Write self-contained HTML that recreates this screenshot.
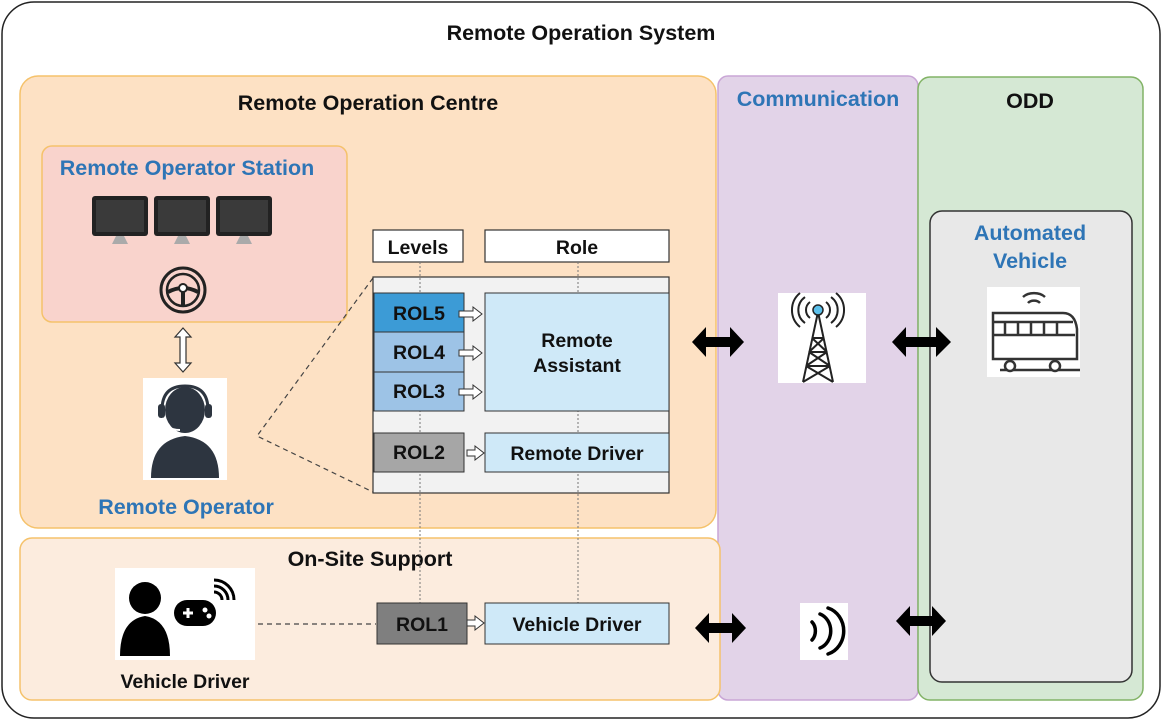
<!DOCTYPE html>
<html><head><meta charset="utf-8"><style>
html,body{margin:0;padding:0;background:#fff}
svg{display:block}
text{font-family:"Liberation Sans",Arial,sans-serif;font-weight:bold}
</style></head><body>
<svg width="1163" height="721" viewBox="0 0 1163 721" xmlns="http://www.w3.org/2000/svg">
<rect x="2" y="2" width="1158" height="716" rx="32" fill="#fff" stroke="#222" stroke-width="1.5"/>
<text x="581" y="40" font-size="21.5" text-anchor="middle" fill="#111">Remote Operation System</text>

<rect x="718" y="76" width="200" height="624" rx="10" fill="#e2d3e8" stroke="#c9a6d6" stroke-width="1.5"/>
<text x="818" y="106" font-size="21.5" text-anchor="middle" fill="#2e75b6">Communication</text>
<rect x="918" y="77" width="225" height="623" rx="12" fill="#d5e8d4" stroke="#82b366" stroke-width="1.5"/>
<text x="1030" y="108" font-size="21.5" text-anchor="middle" fill="#111">ODD</text>
<rect x="930" y="211" width="202" height="471" rx="12" fill="#e8e8e8" stroke="#333" stroke-width="1.5"/>
<text x="1030" y="240" font-size="21.5" text-anchor="middle" fill="#2e75b6">Automated</text>
<text x="1030" y="268" font-size="21.5" text-anchor="middle" fill="#2e75b6">Vehicle</text>

<rect x="20" y="76" width="696" height="452" rx="18" fill="#fde1c4" stroke="#f5c26b" stroke-width="1.5"/>
<text x="368" y="110" font-size="21.5" text-anchor="middle" fill="#111">Remote Operation Centre</text>
<rect x="20" y="538" width="700" height="162" rx="12" fill="#fcecde" stroke="#f5c26b" stroke-width="1.5"/>
<text x="370" y="566" font-size="21.5" text-anchor="middle" fill="#111">On-Site Support</text>

<rect x="42" y="146" width="305" height="176" rx="10" fill="#f9d3cc" stroke="#f5c26b" stroke-width="1.5"/>
<text x="187" y="175" font-size="21.5" text-anchor="middle" fill="#2e75b6">Remote Operator Station</text>
<g>
<rect x="92" y="196" width="56" height="40" rx="3" fill="#222"/><rect x="96" y="200" width="48" height="32" fill="#3a3a3a"/><path d="M116 236h8l4 8h-16z" fill="#aaa"/>
<rect x="154" y="196" width="56" height="40" rx="3" fill="#222"/><rect x="158" y="200" width="48" height="32" fill="#3a3a3a"/><path d="M178 236h8l4 8h-16z" fill="#aaa"/>
<rect x="216" y="196" width="56" height="40" rx="3" fill="#222"/><rect x="220" y="200" width="48" height="32" fill="#3a3a3a"/><path d="M240 236h8l4 8h-16z" fill="#aaa"/>
</g>
<circle cx="183" cy="290" r="22" fill="none" stroke="#222" stroke-width="3"/>
<circle cx="183" cy="290" r="16" fill="none" stroke="#222" stroke-width="2.5"/>
<path d="M168 292 Q183 284 198 292 M183 288 V306" stroke="#222" stroke-width="4" fill="none"/>
<circle cx="183" cy="288" r="4" fill="#fff" stroke="#222" stroke-width="2"/>
<path d="M183 328 l-8 9 h5 v26 h-5 l8 9 l8-9 h-5 v-26 h5z" fill="#fff" stroke="#333" stroke-width="1.2"/>
<rect x="143" y="378" width="84" height="102" fill="#fff"/>
<path d="M151 478 Q151 440 185 436 Q219 440 219 478z" fill="#2d3540"/>
<ellipse cx="185" cy="410" rx="20" ry="23" fill="#2d3540"/>
<path d="M162 410 Q162 386 185 386 Q208 386 208 410" fill="none" stroke="#2d3540" stroke-width="3"/>
<rect x="158" y="404" width="7" height="14" rx="3" fill="#2d3540"/><rect x="205" y="404" width="7" height="14" rx="3" fill="#2d3540"/>
<path d="M162 418 Q165 430 180 430" fill="none" stroke="#fff" stroke-width="2"/>
<text x="186" y="514" font-size="21.5" text-anchor="middle" fill="#2e75b6">Remote Operator</text>

<path d="M373 278 L257 436 L373 492" fill="none" stroke="#444" stroke-width="1.2" stroke-dasharray="5,4"/>

<rect x="373" y="230" width="90" height="32" fill="#fff" stroke="#333" stroke-width="1.2"/>
<text x="418" y="254" font-size="19.5" text-anchor="middle" fill="#111">Levels</text>
<rect x="485" y="230" width="184" height="32" fill="#fff" stroke="#333" stroke-width="1.2"/>
<text x="577" y="254" font-size="19.5" text-anchor="middle" fill="#111">Role</text>
<rect x="373" y="277" width="296" height="216" fill="#f2f2f2" stroke="#333" stroke-width="1.2"/>
<path d="M420 262 V603 M578 262 V603" stroke="#777" stroke-width="1" stroke-dasharray="2,2"/>
<rect x="374" y="293" width="90" height="39" fill="#3c9bd6" stroke="#333"/>
<rect x="374" y="332" width="90" height="40" fill="#9dc3e6" stroke="#333"/>
<rect x="374" y="372" width="90" height="39" fill="#9dc3e6" stroke="#333"/>
<rect x="374" y="433" width="90" height="39" fill="#a6a6a6" stroke="#333"/>
<text x="419" y="320" font-size="19.5" text-anchor="middle" fill="#111">ROL5</text>
<text x="419" y="359" font-size="19.5" text-anchor="middle" fill="#111">ROL4</text>
<text x="419" y="398" font-size="19.5" text-anchor="middle" fill="#111">ROL3</text>
<text x="419" y="459" font-size="19.5" text-anchor="middle" fill="#111">ROL2</text>
<rect x="485" y="293" width="184" height="118" fill="#cfe9f8" stroke="#333"/>
<text x="577" y="347" font-size="19.5" text-anchor="middle" fill="#111">Remote</text>
<text x="577" y="372" font-size="19.5" text-anchor="middle" fill="#111">Assistant</text>
<rect x="485" y="433" width="184" height="39" fill="#cfe9f8" stroke="#333"/>
<text x="577" y="460" font-size="19.5" text-anchor="middle" fill="#111">Remote Driver</text>
<g fill="#fff" stroke="#333" stroke-width="1">
<path d="M459 311 h14 v-4 l9 7 l-9 7 v-4 h-14z"/>
<path d="M459 350 h14 v-4 l9 7 l-9 7 v-4 h-14z"/>
<path d="M459 389 h14 v-4 l9 7 l-9 7 v-4 h-14z"/>
<path d="M467 450 h8 v-4 l9 7 l-9 7 v-4 h-8z"/>
<path d="M467 620 h8 v-4 l9 7 l-9 7 v-4 h-8z"/>
</g>

<rect x="377" y="603" width="90" height="41" fill="#7f7f7f" stroke="#333"/>
<text x="422" y="631" font-size="19.5" text-anchor="middle" fill="#111">ROL1</text>
<rect x="485" y="603" width="184" height="41" fill="#cfe9f8" stroke="#333"/>
<text x="577" y="631" font-size="19.5" text-anchor="middle" fill="#111">Vehicle Driver</text>
<path d="M258 624 H376" stroke="#444" stroke-width="1.2" stroke-dasharray="5,4"/>
<rect x="115" y="568" width="140" height="92" fill="#fff"/>
<circle cx="145" cy="598" r="16" fill="#000"/>
<path d="M120 656 Q120 620 145 616 Q170 620 170 656z" fill="#000"/>
<rect x="174" y="600" width="42" height="26" rx="13" fill="#000"/>
<path d="M183 613h10M188 608v10" stroke="#fff" stroke-width="3"/>
<circle cx="205" cy="610" r="2.5" fill="#fff"/><circle cx="209" cy="616" r="2.5" fill="#fff"/>
<path d="M222 600 a8 8 0 0 0 -8 -8 M228 600 a14 14 0 0 0 -14 -14 M234 600 a20 20 0 0 0 -20 -20" fill="none" stroke="#000" stroke-width="3"/>
<text x="185" y="688" font-size="19.5" text-anchor="middle" fill="#111">Vehicle Driver</text>

<rect x="778" y="293" width="88" height="90" fill="#fff"/>
<g stroke="#222" stroke-width="2" fill="none">
<path d="M803 382 L818 312 L833 382 M806 366 L830 366 M809 352 L827 352 M812 338 L824 338 M806 366 L827 352 M830 366 L809 352 M809 352 L824 338 M827 352 L812 338 M803 382 L830 366 M833 382 L806 366"/>
<path d="M810 302 a10 10 0 0 0 0 16 M826 302 a10 10 0 0 1 0 16 M805 297 a16 16 0 0 0 0 26 M831 297 a16 16 0 0 1 0 26 M800 293 a22 22 0 0 0 0 34 M836 293 a22 22 0 0 1 0 34"/>
</g>
<circle cx="818" cy="310" r="5" fill="#5bc0eb" stroke="#222" stroke-width="1.5"/>
<rect x="800" y="603" width="48" height="57" fill="#fff"/>
<g stroke="#000" stroke-width="3.5" fill="none" stroke-linecap="round">
<path d="M812 622 a10 12 0 0 1 0 18 M820 614 a16 18 0 0 1 0 34 M828 608 a22 24 0 0 1 0 46"/>
</g>
<rect x="987" y="287" width="93" height="90" fill="#fff"/>
<g stroke="#333" stroke-width="2.5" fill="none">
<path d="M993 313 h70 q12 0 14 16 v30 h-84z"/>
<path d="M993 322 h80 M993 335 h82 M1005 322 v13 M1018 322 v13 M1031 322 v13 M1044 322 v13 M1057 322 v13"/>
<path d="M1000 370 h80"/>
<path d="M1023 297 a14 10 0 0 1 22 0 M1028 303 a7 5 0 0 1 12 0"/>
</g>
<circle cx="1010" cy="366" r="5" fill="#fff" stroke="#333" stroke-width="2.5"/>
<circle cx="1055" cy="366" r="5" fill="#fff" stroke="#333" stroke-width="2.5"/>

<g fill="#000">
<path d="M692 342 l14-15 v10 h24 v-10 l14 15 l-14 15 v-10 h-24 v10z"/>
<path d="M892 342 l14-15 v10 h30 v-10 l15 15 l-15 15 v-10 h-30 v10z"/>
<path d="M695 628 l14-15 v10 h23 v-10 l14 15 l-14 15 v-10 h-23 v10z"/>
<path d="M896 621 l14-15 v10 h22 v-10 l14 15 l-14 15 v-10 h-22 v10z"/>
</g>
</svg>
</body></html>
